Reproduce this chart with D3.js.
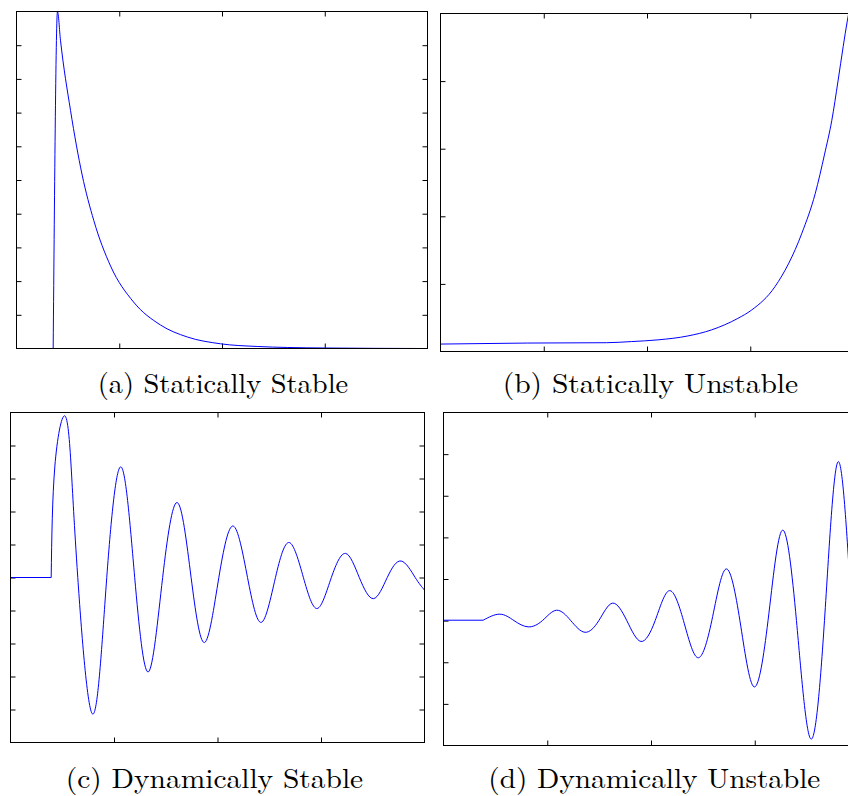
<!DOCTYPE html>
<html>
<head>
<meta charset="utf-8">
<script src="https://cdn.jsdelivr.net/npm/d3@7"></script>
<style>
  html, body { margin: 0; padding: 0; background: #fff; }
  svg { display: block; }
</style>
</head>
<body>
<svg id="chart" width="848" height="796"></svg>
<script>
// ---------------- data ----------------
const xTicks = [1, 2, 3];

// (a) Statically Stable
const aX = [0.357, 0.399, 0.428, 0.526, 0.639, 0.752, 0.915, 1.139, 1.40, 1.664, 1.985, 2.343, 2.64, 3.0, 3.96];
const aY = [0, 10.0, 9.15, 7.06, 5.15, 3.8, 2.45, 1.38, 0.70, 0.34, 0.14, 0.06, 0.03, 0.015, 0.0];
const aYTicks = [1, 2, 3, 4, 5, 6, 7, 8, 9];

// (b) Statically Unstable
const bX = [0, 0.846, 1.61, 1.85, 2.106, 2.396, 2.626, 2.88, 3.01, 3.24, 3.50, 3.63, 3.72, 3.79, 3.85, 3.90, 3.94, 3.98];
const bY = [0.11, 0.125, 0.13, 0.147, 0.172, 0.23, 0.32, 0.49, 0.61, 0.96, 1.75, 2.34, 2.92, 3.42, 4.0, 4.51, 4.89, 5.2];
const bYTicks = [1, 2, 3, 4];

// (c) Dynamically Stable
const cX = [0, 0.393, 0.428, 0.524, 0.586, 0.650, 0.794, 0.93, 1.069, 1.20, 1.332, 1.47, 1.612, 1.745, 1.875, 2.013, 2.152, 2.29, 2.423, 2.56, 2.693, 2.83, 2.963, 3.10, 3.237, 3.37, 3.507, 3.64, 3.774, 3.91, 4.0];
const cY = [0, 0, 3.35, 4.90, 3.35, 0, -4.14, 0, 3.35, 0, -2.86, 0, 2.27, 0, -1.97, 0, 1.56, 0, -1.36, 0, 1.06, 0, -0.94, 0, 0.73, 0, -0.64, 0, 0.50, 0, -0.38];
const cYTicks = [-4, -3, -2, -1, 0, 1, 2, 3, 4];

// (d) Dynamically Unstable
const dX = [0, 0.382, 0.543, 0.68, 0.816, 0.953, 1.090, 1.227, 1.363, 1.497, 1.630, 1.767, 1.903, 2.04, 2.176, 2.313, 2.450, 2.586, 2.722, 2.857, 2.992, 3.128, 3.265, 3.402, 3.539, 3.672, 3.805, 3.94, 4.08];
const dY = [-0.99, -0.99, -0.845, -1.0, -1.15, -1.0, -0.75, -1.0, -1.28, -1.0, -0.58, -1.0, -1.50, -1.0, -0.28, -1.0, -1.89, -1.0, 0.24, -1.0, -2.59, -1.0, 1.17, -1.0, -3.84, -1.0, 2.82, -1.0, -6.0];
const dYTicks = [-3, -2, -1, 0, 1, 2, 3];

// index where the flat lead-in ends and the smooth response begins
const cornerIdx = [0, 1, 1, 1];

const captions = ["(a) Statically Stable", "(b) Statically Unstable", "(c) Dynamically Stable", "(d) Dynamically Unstable"];

// ---------------- layout ----------------
const panels = [
  { xs: aX, ys: aY, yDomain: [0, 10], yTicks: aYTicks, box: [16.5, 427.5, 11.5, 348.5], cap: { x: 97.7, w: 250.5, y: 393 }, curve: d3.curveMonotoneX, lead: d3.curveLinear },
  { xs: bX, ys: bY, yDomain: [0, 5],  yTicks: bYTicks, box: [440.5, 853.5, 13.5, 351.5], cap: { x: 502.7, w: 295.5, y: 393 }, curve: d3.curveMonotoneX, lead: d3.curveLinear },
  { xs: cX, ys: cY, yDomain: [-5, 5], yTicks: cYTicks, box: [10.5, 424.5, 412.5, 742.5], cap: { x: 65.7, w: 297.5, y: 788 }, curve: d3.curveNatural, lead: d3.curveLinear },
  { xs: dX, ys: dY, yDomain: [-4, 4], yTicks: dYTicks, box: [443.5, 858.5, 412.5, 745.5], cap: { x: 488.3, w: 332, y: 788 }, curve: d3.curveNatural, lead: d3.curveLinear }
];

const svg = d3.select("#chart");
const tick = 5;

panels.forEach((p, i) => {
  const [x0, x1, y0, y1] = p.box;
  const x = d3.scaleLinear().domain([0, 4]).range([x0, x1]);
  const y = d3.scaleLinear().domain(p.yDomain).range([y1, y0]);
  const g = svg.append("g");

  const clipId = "clip" + i;
  g.append("clipPath").attr("id", clipId)
    .append("rect").attr("x", x0).attr("y", y0 - 0.5).attr("width", x1 - x0).attr("height", y1 - y0 + 1);

  const strip = s => s.call(a => a.select(".domain").remove());
  g.append("g").attr("transform", `translate(0,${y1})`)
    .call(d3.axisBottom(x).tickValues(xTicks).tickSize(-tick).tickFormat("")).call(strip);
  g.append("g").attr("transform", `translate(0,${y0})`)
    .call(d3.axisTop(x).tickValues(xTicks).tickSize(-tick).tickFormat("")).call(strip);
  g.append("g").attr("transform", `translate(${x0},0)`)
    .call(d3.axisLeft(y).tickValues(p.yTicks).tickSize(-tick).tickFormat("")).call(strip);
  g.append("g").attr("transform", `translate(${x1},0)`)
    .call(d3.axisRight(y).tickValues(p.yTicks).tickSize(-tick).tickFormat("")).call(strip);

  const pts = p.xs.map((v, k) => [v, p.ys[k]]);
  const k = cornerIdx[i];
  const segs = k > 0 ? [[pts.slice(0, k + 1), p.lead], [pts.slice(k), p.curve]] : [[pts, p.curve]];
  segs.forEach(([data, curve]) => {
    const line = d3.line().x(d => x(d[0])).y(d => y(d[1])).curve(curve);
    g.append("path").datum(data)
      .attr("clip-path", `url(#${clipId})`)
      .attr("d", line)
      .attr("fill", "none")
      .attr("stroke", "#0000ff")
      .attr("stroke-width", 1);
  });

  g.append("rect")
    .attr("x", x0).attr("y", y0).attr("width", x1 - x0).attr("height", y1 - y0)
    .attr("fill", "none").attr("stroke", "#000").attr("stroke-width", 1);

  svg.append("text")
    .attr("x", p.cap.x).attr("y", p.cap.y)
    .attr("textLength", p.cap.w).attr("lengthAdjust", "spacingAndGlyphs")
    .style("font-family", '"Latin Modern Roman", "Liberation Serif", serif')
    .style("font-size", "28px")
    .attr("fill", "#000")
    .text(captions[i]);
});
</script>
</body>
</html>
